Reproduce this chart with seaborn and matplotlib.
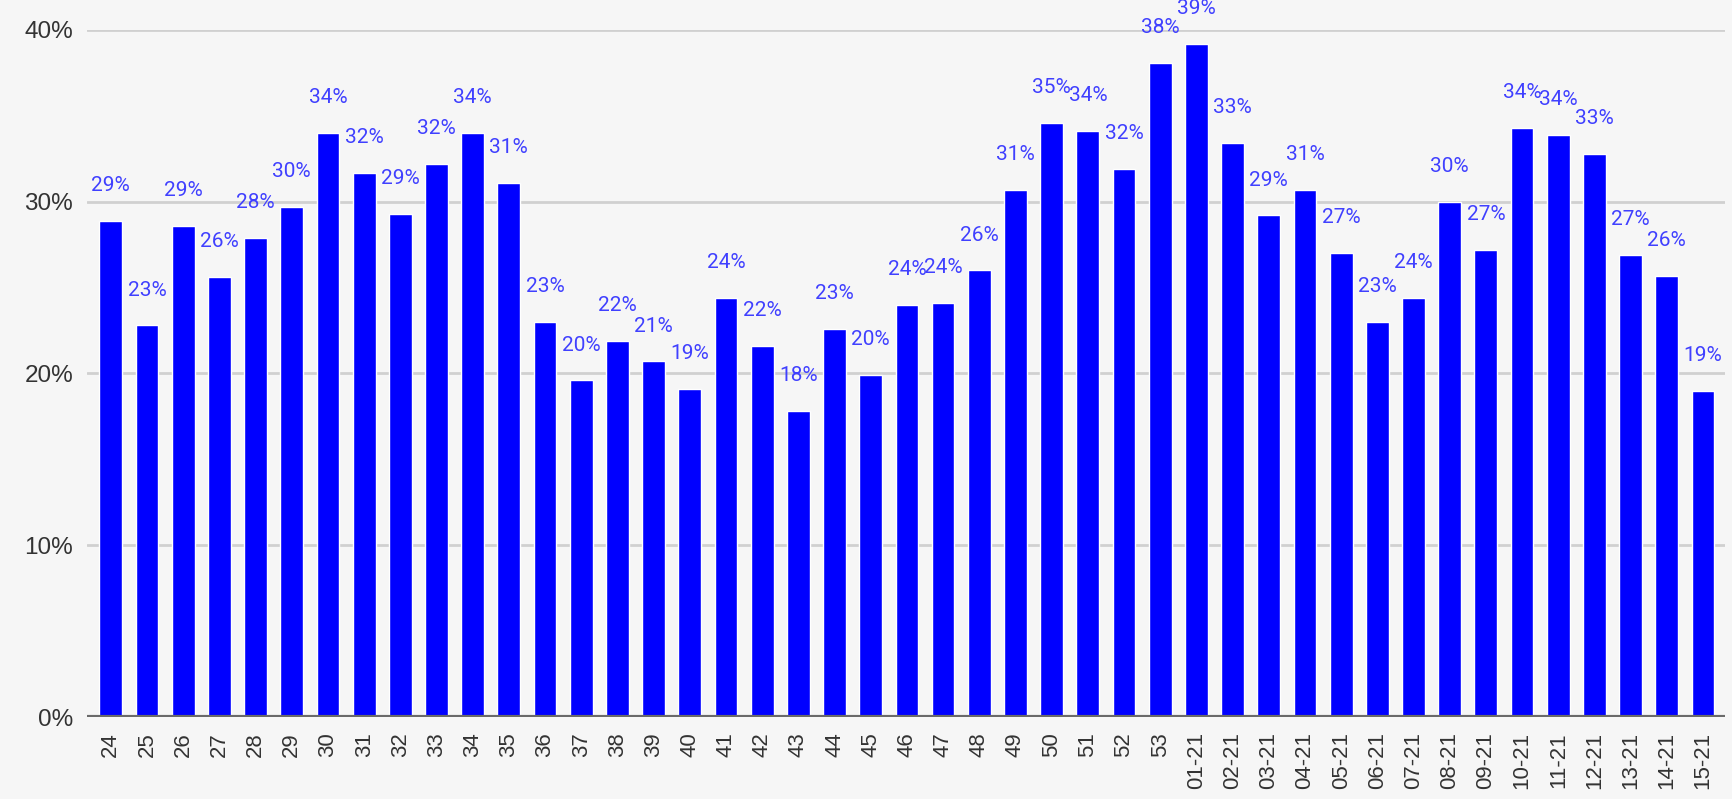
import pandas as pd
import numpy as np
import matplotlib
matplotlib.use("Agg")
import matplotlib.pyplot as plt
import seaborn as sns
from matplotlib.ticker import PercentFormatter

# week labels and share per week
weeks = ['24', '25', '26', '27', '28', '29', '30', '31', '32', '33', '34', '35',
         '36', '37', '38', '39', '40', '41', '42', '43', '44', '45', '46', '47',
         '48', '49', '50', '51', '52', '53', '01-21', '02-21', '03-21', '04-21',
         '05-21', '06-21', '07-21', '08-21', '09-21', '10-21', '11-21', '12-21',
         '13-21', '14-21', '15-21']
share = [28.9, 22.8, 28.6, 25.6, 27.9, 29.7, 34.0, 31.7, 29.3, 32.2, 34.0, 31.1,
         23.0, 19.6, 21.9, 20.7, 19.1, 24.4, 21.6, 17.8, 22.6, 19.9, 24.0, 24.1,
         26.0, 30.7, 34.6, 34.1, 31.9, 38.1, 39.2, 33.4, 29.2, 30.7, 27.0, 23.0,
         24.4, 30.0, 27.2, 34.3, 33.9, 32.8, 26.9, 25.7, 19.0]
y_ticks = [0, 10, 20, 30, 40]

df = pd.DataFrame({'week': weeks, 'share': share})

bg = '#f6f6f6'
sns.set_style('white', {'axes.facecolor': bg, 'figure.facecolor': bg})
plt.rcParams['font.family'] = ['Liberation Sans', 'DejaVu Sans']

fig = plt.figure(figsize=(17.32, 7.99), dpi=100)
ax = fig.add_axes([0.0502, 0.1026, 0.996 - 0.0502, 0.9625 - 0.1026])

sns.barplot(data=df, x='week', y='share', color='#0000ff', saturation=1,
            width=0.63, ax=ax, zorder=3)

# value labels above bars
for i, v in enumerate(share):
    ax.annotate('{:.0f}%'.format(v), (i, v), xytext=(0, 21.5),
                textcoords='offset points', ha='center', va='baseline',
                fontsize=15, color='#4040ff', family=['Roboto', 'DejaVu Sans'],
                annotation_clip=False, clip_on=False)

ax.set_ylim(0, 40)
ax.set_xlim(-0.66, len(weeks) - 1 + 0.61)
ax.set_yticks(y_ticks)
ax.yaxis.set_major_formatter(PercentFormatter(decimals=0))
ax.grid(axis='y', color='#d0d0d0', linewidth=2, zorder=0)
ax.axhline(0, color='#6a6a6a', linewidth=3, zorder=4)
for s in ax.spines.values():
    s.set_visible(False)

ax.tick_params(axis='y', length=0, pad=10, labelsize=17.5, labelcolor='#333333')
ax.tick_params(axis='x', length=0, pad=11, labelsize=16, labelcolor='#333333',
               labelrotation=90)
ax.set_xlabel('')
ax.set_ylabel('')

fig.savefig('out.png', dpi=100, facecolor=bg)
